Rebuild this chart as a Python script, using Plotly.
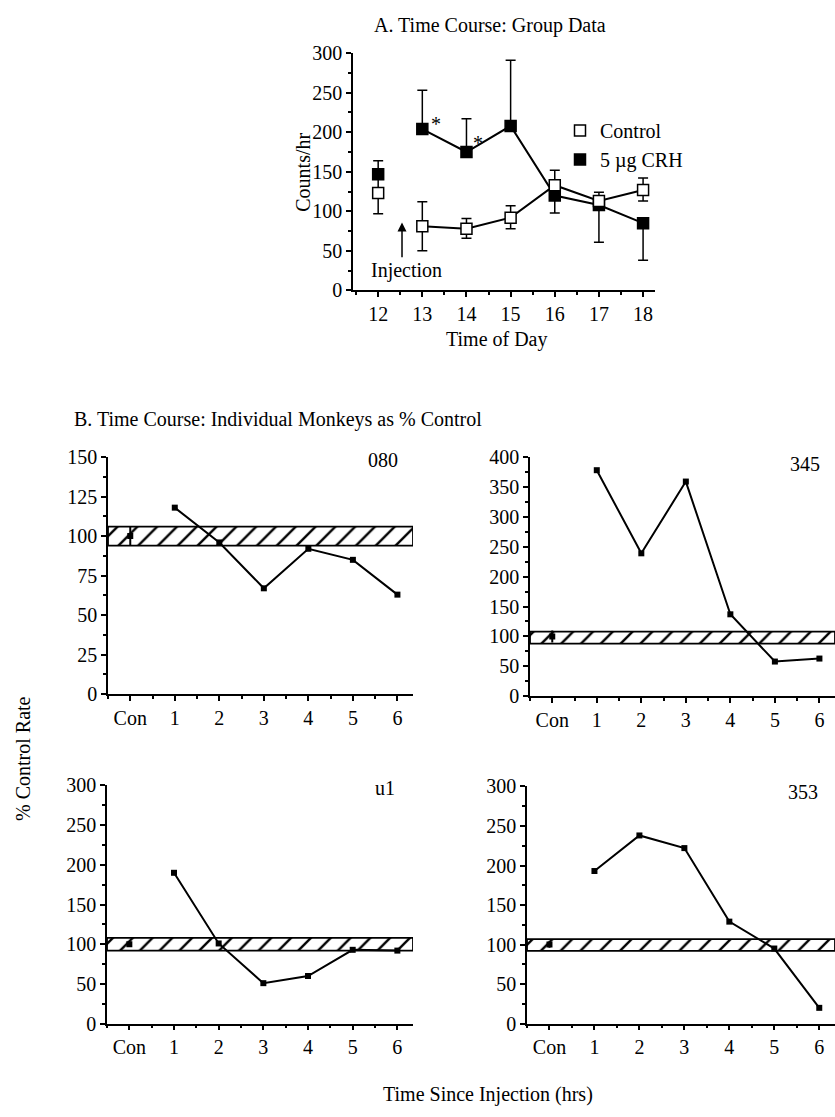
import plotly.graph_objects as go

# ---------------- data ----------------
hours = [12, 13, 14, 15, 16, 17, 18]
ctrl_mean = [123, 81, 78, 92, 133, 113, 127]
ctrl_err_up = [25, 31, 13, 15, 19, 11, 15]
ctrl_err_dn = [26, 31, 12, 14, 0, 0, 14]
crh_mean = [147, 204, 175, 208, 120, 108, 85]
crh_err_up = [17, 49, 42, 83, 0, 0, 0]
crh_err_dn = [0, 0, 0, 0, 22, 47, 47]

time_labels = ["Con", "1", "2", "3", "4", "5", "6"]
monkey_names = ["080", "345", "u1", "353"]
m080 = [100, 118, 96, 67, 92, 85, 63]
m345 = [100, 378, 239, 359, 137, 58, 63]
mu1 = [100, 190, 101, 51, 60, 93, 92]
m353 = [100, 193, 238, 222, 129, 95, 20]
con_err = [6, 10, 3, 4]
band_lo = [94, 88, 92, 92]
band_hi = [106, 108, 108, 107]
y_max = [150, 400, 300, 300]
y_major = [25, 50, 50, 50]

W, H = 835, 1117
FONT = "Liberation Serif"


def fx(px):
    return px / W


def fy(py):
    return 1 - py / H


fig = go.Figure()

axis_common = dict(
    showline=True, linecolor="black", linewidth=1.5, ticks="outside",
    ticklen=5, tickwidth=1.5, tickcolor="black", showgrid=False,
    zeroline=False, mirror=False,
    tickfont=dict(family=FONT, size=20, color="black"),
)

# ---------------- Panel A ----------------
pre = slice(0, 1)
post = slice(1, None)
for mean, up, dn, fill in [
    (crh_mean, crh_err_up, crh_err_dn, "black"),
    (ctrl_mean, ctrl_err_up, ctrl_err_dn, "white"),
]:
    for sl, mode in [(pre, "markers"), (post, "lines+markers")]:
        fig.add_trace(go.Scatter(
            x=hours[sl], y=mean[sl], mode=mode, xaxis="x", yaxis="y",
            line=dict(color="black", width=2),
            marker=dict(symbol="square", size=11, color=fill,
                        line=dict(color="black", width=1.5)),
            error_y=dict(type="data", symmetric=False, array=up[sl],
                         arrayminus=dn[sl], color="black", thickness=1.5,
                         width=5),
            showlegend=False, cliponaxis=False,
        ))

for fill, name in [("white", "Control"), ("black", "5 µg CRH")]:
    fig.add_trace(go.Scatter(
        x=[None], y=[None], mode="markers", name=name, xaxis="x", yaxis="y",
        marker=dict(symbol="square", size=11, color=fill,
                    line=dict(color="black", width=1.5)),
    ))

# ---------------- Panel B ----------------
series = [m080, m345, mu1, m353]
xs = list(range(len(time_labels)))
for i, vals in enumerate(series):
    ax = str(i + 2)
    x0, x1 = -0.5, 6.35
    fig.add_trace(go.Scatter(
        x=[x0, x1, x1, x0, x0],
        y=[band_lo[i], band_lo[i], band_hi[i], band_hi[i], band_lo[i]],
        mode="lines", fill="toself", xaxis="x" + ax, yaxis="y" + ax,
        line=dict(color="black", width=1.8),
        fillcolor="white",
        fillpattern=dict(shape="/", fgcolor="black", bgcolor="white",
                         fgopacity=1, size=14, solidity=0.17),
        showlegend=False, hoverinfo="skip",
    ))
    fig.add_trace(go.Scatter(
        x=xs[:1], y=vals[:1], mode="markers", xaxis="x" + ax, yaxis="y" + ax,
        marker=dict(symbol="square", size=6, color="black"),
        error_y=dict(type="data", array=[con_err[i]], color="black",
                     thickness=2, width=0),
        showlegend=False,
    ))
    fig.add_trace(go.Scatter(
        x=xs[1:], y=vals[1:], mode="lines+markers",
        xaxis="x" + ax, yaxis="y" + ax,
        line=dict(color="black", width=2),
        marker=dict(symbol="square", size=6, color="black"),
        showlegend=False, cliponaxis=False,
    ))

# ---------------- axes ----------------
layout = dict(
    width=W, height=H, margin=dict(l=0, r=0, t=0, b=0),
    plot_bgcolor="white", paper_bgcolor="white",
    font=dict(family=FONT, size=20, color="black"),
    showlegend=True,
    legend=dict(x=fx(560), y=fy(102), xanchor="left", yanchor="top",
                font=dict(family=FONT, size=20, color="black"),
                bgcolor="rgba(0,0,0,0)", itemwidth=30, tracegroupgap=0),
)

layout["xaxis"] = dict(axis_common, domain=[fx(353), fx(655)],
                       range=[11.43, 18.27], tickvals=hours,
                       minor=dict(ticks="outside", ticklen=3, dtick=0.5,
                                  tick0=12, tickcolor="black"),
                       anchor="y")
layout["yaxis"] = dict(axis_common, domain=[fy(285), fy(43)],
                       range=[0, 300], dtick=50,
                       minor=dict(ticks="outside", ticklen=3, dtick=25,
                                  tickcolor="black"),
                       anchor="x")

boxes = [
    (108, 413, 455, 697),
    (530, 835, 455, 699),
    (107, 413, 790, 1033),
    (527, 835, 791, 1033),
]
for i, (l, r, t, b) in enumerate(boxes):
    ax = str(i + 2)
    layout["xaxis" + ax] = dict(axis_common, domain=[fx(l), fx(r)],
                                range=[-0.5, 6.35], tickvals=xs,
                                ticktext=time_labels,
                                minor=dict(ticks="outside", ticklen=3,
                                           dtick=0.5, tick0=0,
                                           tickcolor="black"),
                                anchor="y" + ax)
    layout["yaxis" + ax] = dict(axis_common, domain=[fy(b), fy(t)],
                                range=[0, y_max[i]], dtick=y_major[i],
                                minor=dict(ticks="outside", ticklen=3,
                                           dtick=y_major[i] / 2,
                                           tickcolor="black"),
                                anchor="x" + ax)

fig.update_layout(**layout)

# ---------------- annotations ----------------
ann = []


def text(x, y, s, xanchor="center", angle=0, xref="paper", yref="paper",
         size=20):
    ann.append(dict(x=x, y=y, xref=xref, yref=yref, text=s, showarrow=False,
                    xanchor=xanchor, yanchor="middle", textangle=angle,
                    font=dict(family=FONT, size=size, color="black")))


text(fx(372), fy(15), "A. Time Course: Group Data", xanchor="left")
text(fx(303), fy(165), "Counts/hr", angle=-90)
text(fx(497), fy(335), "Time of Day")
text(12.64, 25, "Injection", xref="x", yref="y")
text(13.31, 211, "*", xref="x", yref="y")
text(14.26, 186, "*", xref="x", yref="y")
ann.append(dict(x=12.54, y=86, ax=12.54, ay=40, xref="x", yref="y",
                axref="x", ayref="y", showarrow=True, arrowhead=2,
                arrowsize=1.2, arrowwidth=1.5, arrowcolor="black", text=""))

text(fx(72), fy(417), "B. Time Course: Individual Monkeys as % Control",
     xanchor="left")
text(fx(23), fy(763), "% Control Rate", angle=-90)
text(fx(488), fy(1105), "Time Since Injection (hrs)")

label_pos = [(383, 458), (805, 462), (385, 793), (803, 797)]
for name, (lx, ly) in zip(monkey_names, label_pos):
    text(fx(lx), fy(ly), name)

fig.update_layout(annotations=ann)

fig.write_html(
    "out.html",
    config={"displayModeBar": False},
    post_script="document.body.style.margin='0';"
                "document.body.style.overflow='hidden';"
                "document.documentElement.style.overflow='hidden';",
)
